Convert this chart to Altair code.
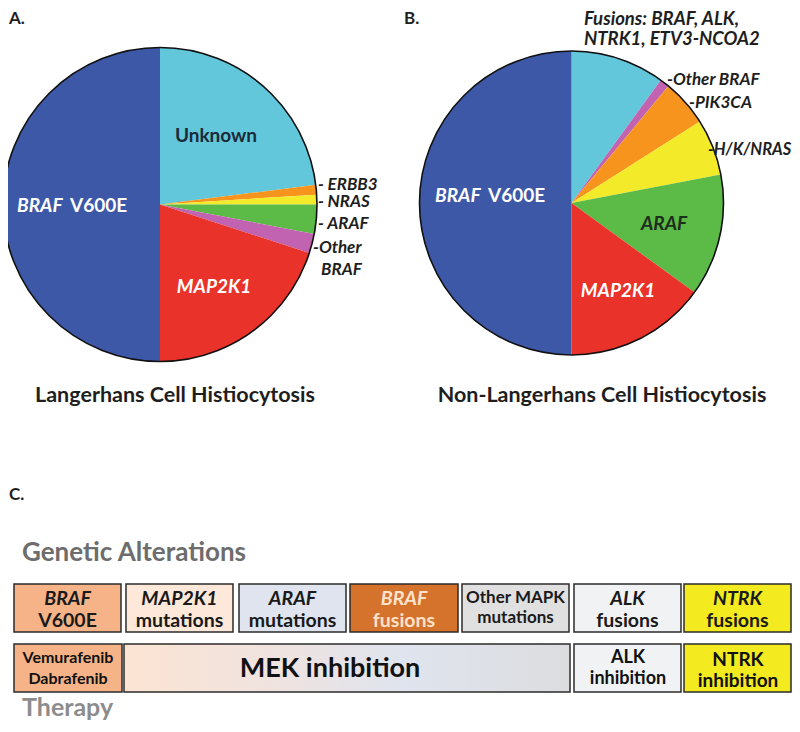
import altair as alt
import pandas as pd

# ---------------- data ----------------
# Panel A: Langerhans Cell Histiocytosis (percent, clockwise from 12 o'clock)
lch_cats = ["Unknown", "ERBB3", "NRAS", "ARAF", "Other BRAF", "MAP2K1", "BRAF V600E"]
lch_vals = [23, 1, 1, 3, 2, 20, 50]

# Panel B: Non-Langerhans Cell Histiocytosis
nlch_cats = ["Fusions", "Other BRAF", "PIK3CA", "H/K/NRAS", "ARAF", "MAP2K1", "BRAF V600E"]
nlch_vals = [10, 1, 5, 6, 13, 15, 50]

# Panel C: genetic alterations row and therapy row
alt_line1 = ["BRAF", "MAP2K1", "ARAF", "BRAF", "Other MAPK", "ALK", "NTRK"]
alt_line2 = ["V600E", "mutations", "mutations", "fusions", "mutations", "fusions", "fusions"]
alt_line1_italic = [True, True, True, True, False, True, True]
therapy_line1 = ["Vemurafenib", "MEK inhibition", "ALK", "NTRK"]
therapy_line2 = ["Dabrafenib", "", "inhibition", "inhibition"]

# ---------------- styles / layout ----------------
color_domain = ["BRAF V600E", "Unknown", "Fusions", "ERBB3", "PIK3CA", "NRAS",
                "H/K/NRAS", "ARAF", "Other BRAF", "MAP2K1"]
color_range = ["#3e58a8", "#62c7da", "#62c7da", "#f7941d", "#f7941d", "#f3ea2a",
               "#f3ea2a", "#5cba47", "#c163b1", "#e8322a"]

FONT = "Lato"
xs = alt.Scale(domain=[8, 792])
ys = alt.Scale(domain=[8, 724], reverse=True)

# layout of boxes (page pixel units)
alt_x0 = [14, 126, 239, 350, 462, 574, 684]
alt_x1 = [121, 233, 346, 458, 569, 681, 791]
alt_fill = ["#f5b387", "#fde8d9", "#dfe4ee", "#d5722b", "#e0e0e0", "#f1f2f3", "#f3ea1f"]
alt_txt = ["#1a1a1a", "#1a1a1a", "#1a1a1a", "#fde3cc", "#1a1a1a", "#1a1a1a", "#1a1a1a"]
alt_size = [19.5, 19.5, 19.5, 19.5, 17, 19.5, 19.5]
th_x0 = [14, 124, 574, 684]
th_x1 = [122, 570, 681, 791]
th_fill = ["#f5b387", "", "#f1f2f3", "#f3ea1f"]

# ---------------- pies ----------------
def pie(cats, vals, cx, cy, r):
    df = pd.DataFrame({"cat": cats, "v": vals, "i": list(range(len(cats)))})
    arcs = alt.Chart(df).mark_arc(radius=r).encode(
        theta=alt.Theta("v:Q", stack=True, scale=alt.Scale(domain=[0, 100])),
        order=alt.Order("i:Q"),
        color=alt.Color("cat:N", scale=alt.Scale(domain=color_domain, range=color_range), legend=None),
        x=alt.value(cx - 8), y=alt.value(cy - 8),
    )
    outline = alt.Chart(pd.DataFrame({"v": [sum(vals)]})).mark_arc(
        radius=r, fillOpacity=0, stroke="#111111", strokeWidth=1.6
    ).encode(
        theta=alt.Theta("v:Q", scale=alt.Scale(domain=[0, 100])),
        x=alt.value(cx - 8), y=alt.value(cy - 8),
    )
    return [arcs, outline]

layers = []
layers += pie(lch_cats, lch_vals, 160, 204.5, 157)
layers += pie(nlch_cats, nlch_vals, 571.5, 203, 152)

# ---------------- boxes ----------------
box_rows = []
for i in range(len(alt_line1)):
    box_rows.append({"x0": alt_x0[i], "x1": alt_x1[i], "y0": 584, "y1": 632, "f": alt_fill[i]})
for i in range(len(therapy_line1)):
    if th_fill[i]:
        box_rows.append({"x0": th_x0[i], "x1": th_x1[i], "y0": 644, "y1": 692, "f": th_fill[i]})
boxes = alt.Chart(pd.DataFrame(box_rows)).mark_rect(stroke="#2b2b2b", strokeWidth=1.5).encode(
    x=alt.X("x0:Q", scale=xs, axis=None), x2="x1:Q",
    y=alt.Y("y0:Q", scale=ys, axis=None), y2="y1:Q",
    fill=alt.Fill("f:N", scale=None),
)
mek = alt.Chart(pd.DataFrame([{"x0": th_x0[1], "x1": th_x1[1], "y0": 644, "y1": 692}])).mark_rect(
    stroke="#2b2b2b", strokeWidth=1.5,
    fill={"gradient": "linear", "x1": 0, "y1": 0, "x2": 1, "y2": 0,
          "stops": [{"offset": 0, "color": "#fce4d3"},
                    {"offset": 0.35, "color": "#efe3e0"},
                    {"offset": 0.62, "color": "#dfe4ee"},
                    {"offset": 1, "color": "#dcdddf"}]},
).encode(
    x=alt.X("x0:Q", scale=xs, axis=None), x2="x1:Q",
    y=alt.Y("y0:Q", scale=ys, axis=None), y2="y1:Q",
)
layers += [boxes, mek]

# ---------------- texts ----------------
T = []  # text, x, y(baseline), size, color, italic, align
def add(t, x, y, s, c, it=False, al="center"):
    T.append({"t": t, "x": x, "y": y, "s": s, "c": c, "it": it, "al": al})

DARK = "#1e1e1e"
add("A.", 9, 24, 17, DARK, al="left")
add("B.", 404, 24, 17, DARK, al="left")
add("C.", 9, 500, 17, DARK, al="left")

# pie A labels
add("BRAF", 17, 212, 19, "white", True, "left")
add("V600E", 70, 212, 19, "white", False, "left")
add("Unknown", 216, 142, 19, "#1b2a38")
add("MAP2K1", 214, 293, 19, "white", True)
add("- ERBB3", 318, 190, 17, DARK, True, "left")
add("- NRAS", 318, 207, 17, DARK, True, "left")
add("- ARAF", 318, 229, 17, DARK, True, "left")
add("-Other", 313, 253, 17, DARK, True, "left")
add("BRAF", 321, 275, 17, DARK, True, "left")
add("Langerhans Cell Histiocytosis", 175, 402, 21.5, DARK)

# pie B labels
add("BRAF", 435, 202, 19, "white", True, "left")
add("V600E", 488, 202, 19, "white", False, "left")
add("ARAF", 664, 230, 19, "#1c2e1c", True)
add("MAP2K1", 618, 297, 19, "white", True)
add("Fusions: BRAF, ALK,", 584, 25, 18.5, DARK, True, "left")
add("NTRK1, ETV3-NCOA2", 584, 45, 18.5, DARK, True, "left")
add("-Other  BRAF", 667, 85, 17, DARK, True, "left")
add("-PIK3CA", 689, 108, 17, DARK, True, "left")
add("-H/K/NRAS", 708, 155, 16.5, DARK, True, "left")
add("Non-Langerhans Cell Histiocytosis", 602, 402, 21.5, DARK)

# panel C
add("Genetic Alterations", 22, 561, 26, "#6d6d6d", False, "left")
add("Therapy", 22, 716, 25, "#8c8c8c", False, "left")
for i in range(len(alt_line1)):
    cx = (alt_x0[i] + alt_x1[i]) / 2
    off = 0 if alt_size[i] > 18 else -2
    add(alt_line1[i], cx, 605 + off, alt_size[i], alt_txt[i], alt_line1_italic[i])
    add(alt_line2[i], cx, 627 + off * 2, alt_size[i], alt_txt[i], False)
th_cx = [68, 330, 628, 738]
th_y1 = [663, 677, 663, 666]
th_y2 = [684, 0, 684, 687]
th_sz = [16, 27, 18, 19]
for i in range(len(therapy_line1)):
    add(therapy_line1[i], th_cx[i], th_y1[i], th_sz[i], "#111111")
    if therapy_line2[i]:
        add(therapy_line2[i], th_cx[i], th_y2[i], th_sz[i], "#111111")

tdf = pd.DataFrame(T)
for it in [False, True]:
    for al in ["left", "center"]:
        sub = tdf[(tdf["it"] == it) & (tdf["al"] == al)]
        if len(sub) == 0:
            continue
        layers.append(
            alt.Chart(sub).mark_text(
                font=FONT, fontWeight="bold", fontStyle="italic" if it else "normal",
                align=al, baseline="alphabetic",
            ).encode(
                x=alt.X("x:Q", scale=xs, axis=None),
                y=alt.Y("y:Q", scale=ys, axis=None),
                text="t:N",
                size=alt.Size("s:Q", scale=None),
                fill=alt.Fill("c:N", scale=None),
            )
        )

chart = alt.layer(*layers).properties(
    width=784, height=716, padding=0, autosize="none", background="white"
).configure_view(stroke="transparent")

chart.save("out.html", embed_options={"renderer": "svg", "actions": False})
